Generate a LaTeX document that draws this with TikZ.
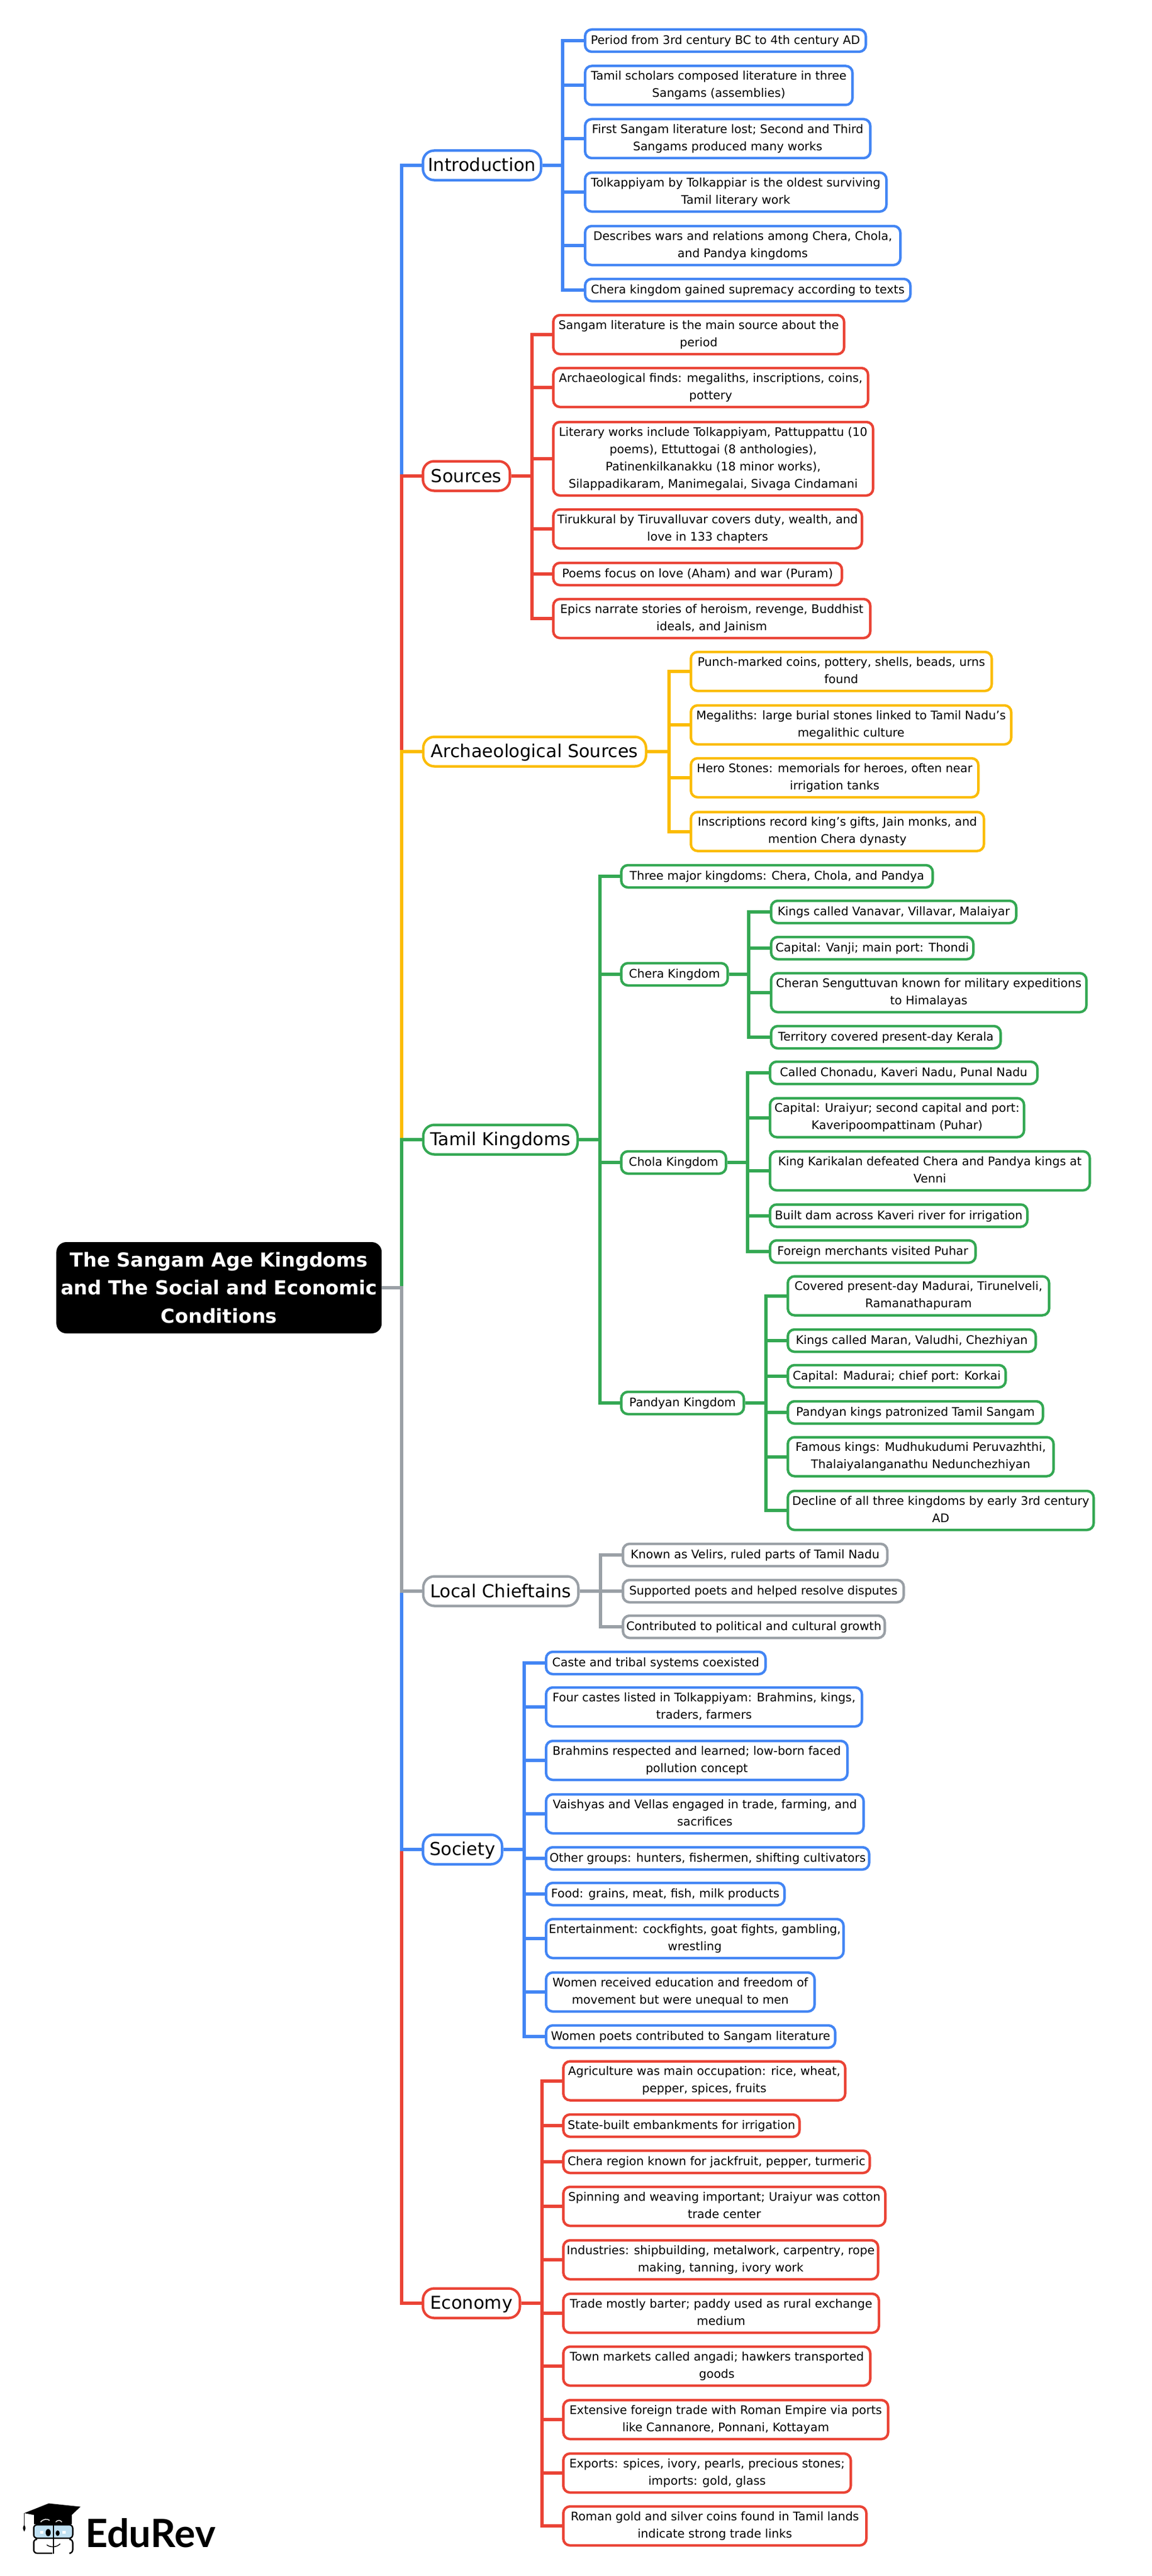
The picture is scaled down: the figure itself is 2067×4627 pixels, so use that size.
\documentclass[tikz,border=0pt]{standalone}
\usepackage{fontspec}
\setmainfont{DejaVu Sans}
\newfontfamily\logofont{Lato}

\definecolor{introblue}{HTML}{4285F4}
\definecolor{srcred}{HTML}{EA4335}
\definecolor{archyellow}{HTML}{FBBC04}
\definecolor{tamilgreen}{HTML}{34A853}
\definecolor{chiefgrey}{HTML}{9AA0A6}
\definecolor{lensblue}{HTML}{BFE0F2}

\newcommand{\leafstrut}{\rule[-5pt]{0pt}{23pt}}
\newcommand{\topicstrut}{\rule[-5pt]{0pt}{32pt}}

\tikzset{
    leaf/.style={rectangle, rounded corners=12pt, fill=white, line width=4.5pt, anchor=west, inner sep=0pt,
        align=center, minimum height=40pt, font=\fontsize{21.2}{31}\selectfont,
        execute at begin node=\leafstrut, execute at end node=\leafstrut},
    twolines/.style={minimum height=70pt},
    topic/.style={rectangle, rounded corners=20pt, fill=white, line width=4.5pt, anchor=west, inner sep=0pt,
        align=center, minimum height=53pt, font=\fontsize{32}{36}\selectfont,
        execute at begin node=\topicstrut},
    bluelink/.style={draw=introblue, line width=6pt},
    redlink/.style={draw=srcred, line width=6pt},
    yellowlink/.style={draw=archyellow, line width=6pt},
    greenlink/.style={draw=tamilgreen, line width=6pt},
    greylink/.style={draw=chiefgrey, line width=6pt},
    logoline/.style={draw=black, line width=2.5pt}
}

\begin{document}
\begin{tikzpicture}[x=1pt, y=-1pt]
    \useasboundingbox (0, 0) rectangle (2067, 4627);

    \node (Root) [rectangle, rounded corners=18pt, fill=black, text=white, align=center, inner sep=0pt, anchor=west,
        minimum width=584pt, minimum height=164pt, font=\fontsize{34.7}{50.5}\selectfont\bfseries] at (101, 2313)
        {The Sangam Age Kingdoms\\and The Social and Economic\\Conditions};
    \coordinate (RootS) at (720.5, 2313);

    % Introduction
    \node (Intro) [topic, draw=introblue, minimum width=212pt] at (757, 297) {Introduction};
    \coordinate (IntroS) at (1010, 297);
    \node (I1) [leaf, draw=introblue, minimum width=504pt] at (1048, 73) {Period from 3rd century BC to 4th century AD};
    \node (I2) [leaf, twolines, draw=introblue, minimum width=480pt] at (1048, 153.5) {Tamil scholars composed literature in three\\Sangams (assemblies)};
    \node (I3) [leaf, twolines, draw=introblue, minimum width=512pt] at (1048, 249) {First Sangam literature lost; Second and Third\\Sangams produced many works};
    \node (I4) [leaf, twolines, draw=introblue, minimum width=541pt] at (1048, 345) {Tolkappiyam by Tolkappiar is the oldest surviving\\Tamil literary work};
    \node (I5) [leaf, twolines, draw=introblue, minimum width=566pt] at (1048, 441) {Describes wars and relations among Chera, Chola,\\and Pandya kingdoms};
    \node (I6) [leaf, draw=introblue, minimum width=584pt] at (1048, 521) {Chera kingdom gained supremacy according to texts};

    % Sources
    \node (Src) [topic, draw=srcred, minimum width=156pt] at (757, 855) {Sources};
    \coordinate (SrcS) at (955, 855);
    \node (S1) [leaf, twolines, draw=srcred, minimum width=522pt] at (991, 601) {Sangam literature is the main source about the\\period};
    \node (S2) [leaf, twolines, draw=srcred, minimum width=565pt] at (991, 696) {Archaeological finds: megaliths, inscriptions, coins,\\pottery};
    \node (S3) [leaf, draw=srcred, minimum width=574pt, minimum height=132pt] at (991, 824) {Literary works include Tolkappiyam, Pattuppattu (10\\poems), Ettuttogai (8 anthologies),\\Patinenkilkanakku (18 minor works),\\Silappadikaram, Manimegalai, Sivaga Cindamani};
    \node (S4) [leaf, twolines, draw=srcred, minimum width=554pt] at (991, 950) {Tirukkural by Tiruvalluvar covers duty, wealth, and\\love in 133 chapters};
    \node (S5) [leaf, draw=srcred, minimum width=518pt] at (991, 1031) {Poems focus on love (Aham) and war (Puram)};
    \node (S6) [leaf, twolines, draw=srcred, minimum width=569pt] at (991, 1111) {Epics narrate stories of heroism, revenge, Buddhist\\ideals, and Jainism};

    % Archaeological Sources
    \node (Arch) [topic, draw=archyellow, minimum width=400pt] at (757.5, 1350) {Archaeological Sources};
    \coordinate (ArchS) at (1201, 1350);
    \node (A1) [leaf, twolines, draw=archyellow, minimum width=540pt] at (1238, 1206) {Punch-marked coins, pottery, shells, beads, urns\\found};
    \node (A2) [leaf, twolines, draw=archyellow, minimum width=575pt] at (1238, 1302) {Megaliths: large burial stones linked to Tamil Nadu’s\\megalithic culture};
    \node (A3) [leaf, twolines, draw=archyellow, minimum width=516pt] at (1238, 1397) {Hero Stones: memorials for heroes, often near\\irrigation tanks};
    \node (A4) [leaf, twolines, draw=archyellow, minimum width=526pt] at (1238, 1493.5) {Inscriptions record king’s gifts, Jain monks, and\\mention Chera dynasty};

    % Tamil Kingdoms
    \node (Tamil) [topic, draw=tamilgreen, minimum width=277pt] at (757.5, 2047) {Tamil Kingdoms};
    \coordinate (TamilS) at (1077, 2047);
    \node (T0) [leaf, draw=tamilgreen, minimum width=559pt] at (1113, 1574) {Three major kingdoms: Chera, Chola, and Pandya};

    \node (Chera) [leaf, draw=tamilgreen, minimum width=191pt] at (1113, 1750) {Chera Kingdom};
    \coordinate (CheraS) at (1344, 1750);
    \node (C1) [leaf, draw=tamilgreen, minimum width=440pt] at (1382, 1638) {Kings called Vanavar, Villavar, Malaiyar};
    \node (C2) [leaf, draw=tamilgreen, minimum width=363pt] at (1382, 1703) {Capital: Vanji; main port: Thondi};
    \node (C3) [leaf, twolines, draw=tamilgreen, minimum width=566pt] at (1382, 1783) {Cheran Senguttuvan known for military expeditions\\to Himalayas};
    \node (C4) [leaf, draw=tamilgreen, minimum width=412pt] at (1382, 1863) {Territory covered present-day Kerala};

    \node (Chola) [leaf, draw=tamilgreen, minimum width=188pt] at (1113, 2088) {Chola Kingdom};
    \coordinate (CholaS) at (1342, 2088);
    \node (H1) [leaf, draw=tamilgreen, minimum width=480pt] at (1380, 1927) {Called Chonadu, Kaveri Nadu, Punal Nadu};
    \node (H2) [leaf, twolines, draw=tamilgreen, minimum width=456pt] at (1380, 2007.5) {Capital: Uraiyur; second capital and port:\\Kaveripoompattinam (Puhar)};
    \node (H3) [leaf, twolines, draw=tamilgreen, minimum width=574pt] at (1380, 2103) {King Karikalan defeated Chera and Pandya kings at\\Venni};
    \node (H4) [leaf, draw=tamilgreen, minimum width=462pt] at (1380, 2183.5) {Built dam across Kaveri river for irrigation};
    \node (H5) [leaf, draw=tamilgreen, minimum width=369pt] at (1380, 2248) {Foreign merchants visited Puhar};

    \node (Pandyan) [leaf, draw=tamilgreen, minimum width=220pt] at (1113, 2520) {Pandyan Kingdom};
    \coordinate (PandyanS) at (1375, 2520);
    \node (P1) [leaf, twolines, draw=tamilgreen, minimum width=469pt] at (1412, 2327.5) {Covered present-day Madurai, Tirunelveli,\\Ramanathapuram};
    \node (P2) [leaf, draw=tamilgreen, minimum width=445pt] at (1412, 2408) {Kings called Maran, Valudhi, Chezhiyan};
    \node (P3) [leaf, draw=tamilgreen, minimum width=391pt] at (1412, 2472) {Capital: Madurai; chief port: Korkai};
    \node (P4) [leaf, draw=tamilgreen, minimum width=458pt] at (1412, 2537) {Pandyan kings patronized Tamil Sangam};
    \node (P5) [leaf, twolines, draw=tamilgreen, minimum width=477pt] at (1412, 2616.5) {Famous kings: Mudhukudumi Peruvazhthi,\\Thalaiyalanganathu Nedunchezhiyan};
    \node (P6) [leaf, twolines, draw=tamilgreen, minimum width=549pt] at (1412, 2713) {Decline of all three kingdoms by early 3rd century\\AD};

    % Local Chieftains
    \node (Local) [topic, draw=chiefgrey, minimum width=278.5pt] at (757.5, 2858) {Local Chieftains};
    \coordinate (LocalS) at (1078, 2858);
    \node (L1) [leaf, draw=chiefgrey, minimum width=474.5pt] at (1116, 2793) {Known as Velirs, ruled parts of Tamil Nadu};
    \node (L2) [leaf, draw=chiefgrey, minimum width=504pt] at (1116, 2858) {Supported poets and helped resolve disputes};
    \node (L3) [leaf, draw=chiefgrey, minimum width=470pt] at (1116, 2922) {Contributed to political and cultural growth};

    % Society
    \node (Soc) [topic, draw=introblue, minimum width=142pt] at (757, 3322) {Society};
    \coordinate (SocS) at (941, 3322);
    \node (So1) [leaf, draw=introblue, minimum width=394pt] at (978, 2987) {Caste and tribal systems coexisted};
    \node (So2) [leaf, twolines, draw=introblue, minimum width=567pt] at (978, 3066) {Four castes listed in Tolkappiyam: Brahmins, kings,\\traders, farmers};
    \node (So3) [leaf, twolines, draw=introblue, minimum width=541pt] at (978, 3162) {Brahmins respected and learned; low-born faced\\pollution concept};
    \node (So4) [leaf, twolines, draw=introblue, minimum width=570pt] at (978, 3258) {Vaishyas and Vellas engaged in trade, farming, and\\sacrifices};
    \node (So5) [leaf, draw=introblue, minimum width=580pt] at (978, 3338) {Other groups: hunters, fishermen, shifting cultivators};
    \node (So6) [leaf, draw=introblue, minimum width=428pt] at (978, 3402) {Food: grains, meat, fish, milk products};
    \node (So7) [leaf, twolines, draw=introblue, minimum width=534pt] at (978, 3482) {Entertainment: cockfights, goat fights, gambling,\\wrestling};
    \node (So8) [leaf, twolines, draw=introblue, minimum width=482pt] at (978, 3578) {Women received education and freedom of\\movement but were unequal to men};
    \node (So9) [leaf, draw=introblue, minimum width=519pt] at (978, 3658) {Women poets contributed to Sangam literature};

    % Economy
    \node (Eco) [topic, draw=srcred, minimum width=174pt] at (757, 4137) {Economy};
    \coordinate (EcoS) at (973, 4137);
    \node (E1) [leaf, twolines, draw=srcred, minimum width=506pt] at (1009, 3737.5) {Agriculture was main occupation: rice, wheat,\\pepper, spices, fruits};
    \node (E2) [leaf, draw=srcred, minimum width=424pt] at (1009, 3818) {State-built embankments for irrigation};
    \node (E3) [leaf, draw=srcred, minimum width=550pt] at (1009, 3883) {Chera region known for jackfruit, pepper, turmeric};
    \node (E4) [leaf, twolines, draw=srcred, minimum width=578pt] at (1009, 3963) {Spinning and weaving important; Uraiyur was cotton\\trade center};
    \node (E5) [leaf, twolines, draw=srcred, minimum width=565pt] at (1009, 4059) {Industries: shipbuilding, metalwork, carpentry, rope\\making, tanning, ivory work};
    \node (E6) [leaf, twolines, draw=srcred, minimum width=566.5pt] at (1009, 4155) {Trade mostly barter; paddy used as rural exchange\\medium};
    \node (E7) [leaf, twolines, draw=srcred, minimum width=551pt] at (1009, 4250) {Town markets called angadi; hawkers transported\\goods};
    \node (E8) [leaf, twolines, draw=srcred, minimum width=583pt] at (1009, 4346) {Extensive foreign trade with Roman Empire via ports\\like Cannanore, Ponnani, Kottayam};
    \node (E9) [leaf, twolines, draw=srcred, minimum width=516pt] at (1009, 4442) {Exports: spices, ivory, pearls, precious stones;\\imports: gold, glass};
    \node (E10) [leaf, twolines, draw=srcred, minimum width=544pt] at (1009, 4537) {Roman gold and silver coins found in Tamil lands\\indicate strong trade links};

    % main trunk, farthest branch first so the nearer colour stays on top
    \draw[bluelink] (Root) -- (RootS) |- (Intro);
    \draw[redlink] (Root) -- (RootS) |- (Src);
    \draw[yellowlink] (Root) -- (RootS) |- (Arch);
    \draw[greenlink] (Root) -- (RootS) |- (Tamil);
    \draw[redlink] (Root) -- (RootS) |- (Eco);
    \draw[bluelink] (Root) -- (RootS) |- (Soc);
    \draw[greylink] (Root) -- (RootS) |- (Local);

    \draw[bluelink] (Intro) -- (IntroS) |- (I1);
    \draw[bluelink] (Intro) -- (IntroS) |- (I2);
    \draw[bluelink] (Intro) -- (IntroS) |- (I3);
    \draw[bluelink] (Intro) -- (IntroS) |- (I4);
    \draw[bluelink] (Intro) -- (IntroS) |- (I5);
    \draw[bluelink] (Intro) -- (IntroS) |- (I6);

    \draw[redlink] (Src) -- (SrcS) |- (S1);
    \draw[redlink] (Src) -- (SrcS) |- (S2);
    \draw[redlink] (Src) -- (SrcS) |- (S3);
    \draw[redlink] (Src) -- (SrcS) |- (S4);
    \draw[redlink] (Src) -- (SrcS) |- (S5);
    \draw[redlink] (Src) -- (SrcS) |- (S6);

    \draw[yellowlink] (Arch) -- (ArchS) |- (A1);
    \draw[yellowlink] (Arch) -- (ArchS) |- (A2);
    \draw[yellowlink] (Arch) -- (ArchS) |- (A3);
    \draw[yellowlink] (Arch) -- (ArchS) |- (A4);

    \draw[greenlink] (Tamil) -- (TamilS) |- (T0);
    \draw[greenlink] (Tamil) -- (TamilS) |- (Chera);
    \draw[greenlink] (Tamil) -- (TamilS) |- (Chola);
    \draw[greenlink] (Tamil) -- (TamilS) |- (Pandyan);

    \draw[greenlink] (Chera) -- (CheraS) |- (C1);
    \draw[greenlink] (Chera) -- (CheraS) |- (C2);
    \draw[greenlink] (Chera) -- (CheraS) |- (C3);
    \draw[greenlink] (Chera) -- (CheraS) |- (C4);

    \draw[greenlink] (Chola) -- (CholaS) |- (H1);
    \draw[greenlink] (Chola) -- (CholaS) |- (H2);
    \draw[greenlink] (Chola) -- (CholaS) |- (H3);
    \draw[greenlink] (Chola) -- (CholaS) |- (H4);
    \draw[greenlink] (Chola) -- (CholaS) |- (H5);

    \draw[greenlink] (Pandyan) -- (PandyanS) |- (P1);
    \draw[greenlink] (Pandyan) -- (PandyanS) |- (P2);
    \draw[greenlink] (Pandyan) -- (PandyanS) |- (P3);
    \draw[greenlink] (Pandyan) -- (PandyanS) |- (P4);
    \draw[greenlink] (Pandyan) -- (PandyanS) |- (P5);
    \draw[greenlink] (Pandyan) -- (PandyanS) |- (P6);

    \draw[greylink] (Local) -- (LocalS) |- (L1);
    \draw[greylink] (Local) -- (LocalS) |- (L2);
    \draw[greylink] (Local) -- (LocalS) |- (L3);

    \draw[bluelink] (Soc) -- (SocS) |- (So1);
    \draw[bluelink] (Soc) -- (SocS) |- (So2);
    \draw[bluelink] (Soc) -- (SocS) |- (So3);
    \draw[bluelink] (Soc) -- (SocS) |- (So4);
    \draw[bluelink] (Soc) -- (SocS) |- (So5);
    \draw[bluelink] (Soc) -- (SocS) |- (So6);
    \draw[bluelink] (Soc) -- (SocS) |- (So7);
    \draw[bluelink] (Soc) -- (SocS) |- (So8);
    \draw[bluelink] (Soc) -- (SocS) |- (So9);

    \draw[redlink] (Eco) -- (EcoS) |- (E1);
    \draw[redlink] (Eco) -- (EcoS) |- (E2);
    \draw[redlink] (Eco) -- (EcoS) |- (E3);
    \draw[redlink] (Eco) -- (EcoS) |- (E4);
    \draw[redlink] (Eco) -- (EcoS) |- (E5);
    \draw[redlink] (Eco) -- (EcoS) |- (E6);
    \draw[redlink] (Eco) -- (EcoS) |- (E7);
    \draw[redlink] (Eco) -- (EcoS) |- (E8);
    \draw[redlink] (Eco) -- (EcoS) |- (E9);
    \draw[redlink] (Eco) -- (EcoS) |- (E10);

    % logo
    \fill (60.5, 4517) -- (60.5, 4534) -- (128.5, 4534) -- (128.5, 4517) -- cycle;
    \fill (43.5, 4514) -- (87.5, 4496.5) -- (144.5, 4502.5) -- (117.5, 4528) -- cycle;
    \draw[line width=1.5pt] (43.5, 4514) -- (43.5, 4536);
    \fill (43.5, 4535) .. controls (40, 4540) and (41, 4543) .. (43.5, 4547) .. controls (46, 4543) and (47, 4540) .. (43.5, 4535);
    \draw[white, line width=1.5pt] (73, 4530) .. controls (78, 4524) and (85, 4524) .. (89, 4527);
    \draw[white, line width=1.5pt] (100, 4530) .. controls (104, 4526) and (108, 4526) .. (111, 4530);
    \draw[logoline, fill=lensblue, rounded corners=6pt] (60.5, 4535) rectangle (130.5, 4559);
    \draw[logoline, rounded corners=6pt] (94, 4586) -- (60.5, 4586) -- (60.5, 4561) -- (65, 4561);
    \draw[logoline, rounded corners=6pt] (127, 4586) -- (130.5, 4586) -- (130.5, 4561) -- (125, 4561);
    \draw[logoline] (96, 4535) -- (96, 4587);
    \fill (86.5, 4549) ellipse (4.5pt and 6.5pt);
    \fill (103.5, 4550) ellipse (3.5pt and 5pt);
    \fill[white] (72, 4545.5) rectangle (78, 4551);
    \fill[white] (112, 4545.5) rectangle (118, 4551);
    \draw[line width=1.5pt] (84, 4571) .. controls (90, 4576) and (102, 4576) .. (108, 4569);
    \node (Logo) [anchor=west, inner sep=0pt, font=\fontsize{70}{70}\selectfont\logofont\bfseries] at (153, 4550) {EduRev};
\end{tikzpicture}
\end{document}
